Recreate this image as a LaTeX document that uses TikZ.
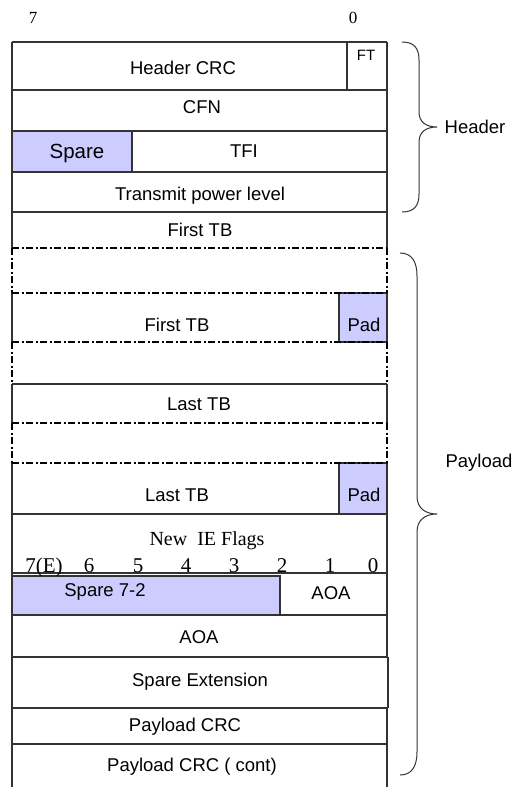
\documentclass[tikz,border=0pt]{standalone}
\usepackage{fontspec}
\setmainfont{Liberation Serif}
\setsansfont{Liberation Sans}
\definecolor{sparefill}{RGB}{204,204,255}
\tikzset{
  field/.style={font=\sffamily\fontsize{18.5}{18.5}\selectfont, inner sep=0pt, text height=13.2pt, text depth=0pt},
  bitnum/.style={font=\fontsize{21}{21}\selectfont, inner sep=0pt, anchor=base},
  frame/.style={draw=black!80, line width=1.3pt},
  dashline/.style={draw=black, line width=1.3pt, dash pattern=on 7pt off 2.5pt on 2pt off 2.5pt},
  sparebox/.style={fill=sparefill, draw=black!80, line width=1.3pt}
}
\begin{document}
\begin{tikzpicture}[x=1pt, y=-1pt]
  \useasboundingbox (0,0) rectangle (516,787);
  % bit order
  \node (msb) at (33,18) [font=\fontsize{17}{17}\selectfont, inner sep=0pt] {7};
  \node (lsb) at (353,18) [font=\fontsize{17}{17}\selectfont, inner sep=0pt] {0};
  % header rows
  \fill[sparefill] (12,131) rectangle (132,172);
  \draw[frame] (12,42) -- (12,248);
  \draw[frame] (387,42) -- (387,248);
  \foreach \y in {42, 90, 131, 172, 212} {
    \draw[frame] (12,\y) -- (387,\y);
  }
  \draw[frame] (347,42) -- (347,90);
  \draw[frame] (132,131) -- (132,172);
  % transport blocks
  \draw[frame] (12,293) -- (12,342);
  \draw[frame] (387,293) -- (387,342);
  \draw[frame] (12,384) -- (12,423) (12,384) -- (387,384) (387,384) -- (387,423);
  \draw[frame] (12,463) -- (12,514) (12,514) -- (387,514) (387,463) -- (387,514);
  \draw[sparebox] (339,293) rectangle (387,342);
  \draw[sparebox] (339,463) rectangle (387,514);
  \foreach \y in {248, 293, 342, 423, 463} {
    \draw[dashline] (12,\y) -- (387,\y);
  }
  \draw[dashline] (12,248) -- (12,293) (387,248) -- (387,293);
  \draw[dashline] (12,342) -- (12,384) (387,342) -- (387,384);
  \draw[dashline] (12,423) -- (12,463) (387,423) -- (387,463);
  % payload tail
  \draw[frame] (12,514) -- (12,787);
  \draw[frame] (387,514) -- (387,657) (388,657) -- (388,708) (387,708) -- (387,787);
  \foreach \y in {573, 615, 657, 708, 744} {
    \draw[frame] (12,\y) -- (387,\y);
  }
  \draw[frame] (387,657) -- (388,657) (387,708) -- (388,708);
  \draw[sparebox] (12,576) rectangle (280,615);
  % field names
  \node[field] (hcrc) at (183,68) {Header CRC};
  \node[field, font=\sffamily\fontsize{15}{15}\selectfont, text height=10.7pt] (ft) at (366,55) {FT};
  \node[field] (cfn) at (202,107) {CFN};
  \node[field, font=\sffamily\fontsize{20.5}{20.5}\selectfont, text height=14.7pt] (spare) at (77,151) {Spare};
  \node[field] (tfi) at (244,151) {TFI};
  \node[field] (tpl) at (200,194) {Transmit power level};
  \node[field] (tb1) at (200,230) {First TB};
  \node[field] (tb1pad) at (177,325) {First TB};
  \node[field] (pad1) at (364,325) {Pad};
  \node[field] (tbn) at (199,404) {Last TB};
  \node[field] (tbnpad) at (177,495) {Last TB};
  \node[field] (pad2) at (364,495) {Pad};
  \node[bitnum, font=\fontsize{20}{20}\selectfont] (ieflags) at (207,545) {New\ \ IE Flags};
  \foreach \x/\b in {44/7(E), 89/6, 138/5, 186/4, 234/3, 282/2, 330/1, 373/0} {
    \node[bitnum] (bit\x) at (\x,572) {\b};
  }
  \node[field] (spare72) at (105,590) {Spare 7-2};
  \node[field] (aoa1) at (331,593) {AOA};
  \node[field] (aoa2) at (199,637) {AOA};
  \node[field] (spext) at (200,680) {Spare Extension};
  \node[field] (pcrc) at (185,725) {Payload CRC};
  \node[field] (pcrc2) at (192,765) {Payload CRC ( cont)};
  % braces
  \draw[frame, line width=1pt] (402,42) .. controls (414,42) and (419,48) .. (419,60) -- (419,112)
    .. controls (419,122) and (426,127) .. (437,127)
    .. controls (426,127) and (419,132) .. (419,142) -- (419,194)
    .. controls (419,206) and (414,212) .. (402,212);
  \draw[frame, line width=1pt] (400,253) .. controls (412,253) and (417,262) .. (417,276) -- (417,496)
    .. controls (417,508) and (425,514) .. (437,514)
    .. controls (425,514) and (417,520) .. (417,532) -- (417,752)
    .. controls (417,766) and (412,775) .. (400,775);
  \node[field] (header) at (475,127) {Header};
  \node[field] (payload) at (479,461) {Payload};
\end{tikzpicture}
\end{document}
